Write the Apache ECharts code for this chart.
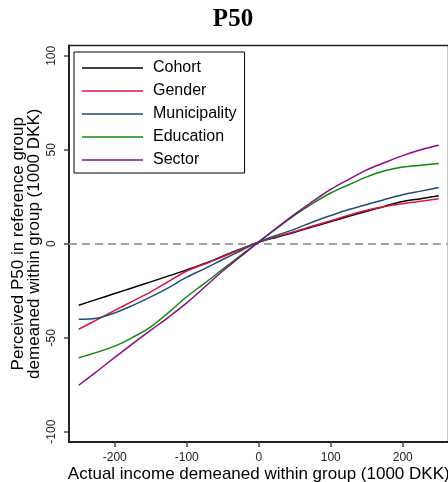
<!DOCTYPE html>
<html>
<head>
<meta charset="utf-8">
<title>P50</title>
<script src="https://cdn.jsdelivr.net/npm/echarts@6/dist/echarts.min.js"></script>
<style>
  html, body { margin: 0; padding: 0; background: #fff; }
  #chart { width: 448px; height: 482px; }
</style>
</head>
<body>
<div id="chart"></div>
<script>
// Actual income demeaned within group (1000 DKK)
const incomeGrid = [-250, -225, -200, -175, -150, -125, -100, -75, -50, -25, 0,
                    25, 50, 75, 100, 125, 150, 175, 200, 225, 250];

// Perceived P50 in reference group, demeaned within group (1000 DKK)
const cohort       = [-32.7, -29.6, -26.5, -23.4, -20.3, -17.1, -13.9, -10.5, -6.6, -2.8, 0.8,
                      3.5, 6.1, 9.0, 11.8, 14.6, 17.3, 20.0, 22.5, 24.0, 25.5];
const gender       = [-45.5, -40.5, -35.5, -30.5, -25.6, -20.0, -14.5, -10.8, -6.9, -2.9, 1.0,
                      3.8, 6.5, 9.4, 12.2, 15.2, 17.8, 19.8, 21.3, 22.6, 24.0];
const municipality = [-40.2, -39.6, -36.8, -32.8, -28.3, -23.3, -17.8, -13.2, -8.4, -3.7, 1.0,
                      4.5, 7.8, 11.6, 15.0, 18.2, 20.9, 23.6, 26.1, 28.0, 29.9];
const education    = [-60.7, -57.8, -54.5, -49.8, -44.2, -36.5, -28.2, -21.0, -13.5, -6.2, 1.0,
                      8.2, 15.2, 21.5, 27.0, 31.4, 35.6, 38.8, 40.8, 41.8, 42.7];
const sector       = [-75.3, -68.0, -60.5, -53.2, -46.0, -39.0, -31.5, -23.0, -14.5, -6.8, 1.0,
                      8.5, 15.8, 22.5, 29.0, 34.3, 39.3, 43.2, 46.9, 50.0, 52.4];

const groupNames  = ['Cohort', 'Gender', 'Municipality', 'Education', 'Sector'];
const groupValues = [cohort, gender, municipality, education, sector];
const groupColors = ['#000000', '#d8173f', '#1f4e79', '#0a8a0a', '#8e0a8e'];

const xTicks = [-200, -100, 0, 100, 200];
const yTicks = [-100, -50, 0, 50, 100];

const SANS = '"Liberation Sans", Arial, sans-serif';
const SERIF = '"Liberation Serif", "Times New Roman", serif';

// plain horizontal stroke used as the legend key
const LEGEND_KEY = 'path://M0,0H61V1.5H0Z';

const series = groupNames.map((name, i) => ({
  name: name,
  type: 'line',
  smooth: 0.35,
  symbol: 'none',
  showSymbol: false,
  color: groupColors[i],
  lineStyle: { color: groupColors[i], width: 1.5 },
  data: incomeGrid.map((x, k) => [x, groupValues[i][k]]),
  z: 3
}));

// dashed reference line at zero
series[0].markLine = {
  silent: true,
  symbol: 'none',
  label: { show: false },
  lineStyle: { type: [8, 5], color: '#a3a3a3', width: 2 },
  data: [{ yAxis: 0 }],
  z: 1
};

const chart = echarts.init(document.getElementById('chart'), null, { renderer: 'canvas' });

chart.setOption({
  animation: false,
  backgroundColor: '#ffffff',
  title: {
    text: 'P50',
    left: 228,
    textAlign: 'center',
    top: 2,
    textStyle: { fontFamily: SERIF, fontWeight: 'bold', fontSize: 25, color: '#000' }
  },
  legend: {
    orient: 'vertical',
    left: 74,
    top: 52,
    padding: [8, 8, 5, 8],
    borderColor: '#000',
    borderWidth: 1,
    backgroundColor: '#fff',
    icon: LEGEND_KEY,
    itemWidth: 61,
    itemHeight: 1.5,
    itemGap: 7,
    data: groupNames,
    textStyle: { fontFamily: SANS, fontSize: 16, lineHeight: 16, color: '#000', padding: [0, 0, 0, 5] }
  },
  grid: {
    left: 69,
    top: 45.5,
    width: 379.5,
    height: 396.5,
    outerBoundsMode: 'none',
    containLabel: false,
    show: true,
    borderColor: '#222',
    borderWidth: 1.5,
    backgroundColor: 'transparent'
  },
  xAxis: {
    type: 'value',
    min: -263.5,
    max: 263.5,
    name: 'Actual income demeaned within group (1000 DKK)',
    nameLocation: 'middle',
    nameGap: 24,
    nameMoveOverlap: false,
    nameTextStyle: { fontFamily: SANS, fontSize: 17, color: '#000' },
    axisLine: { show: true, onZero: false, lineStyle: { color: '#222', width: 2 } },
    axisTick: { show: true, length: 5, customValues: xTicks, lineStyle: { color: '#444', width: 1.5 } },
    axisLabel: { customValues: xTicks, margin: 10, fontFamily: SANS, fontSize: 12, color: '#222' },
    splitLine: { show: false }
  },
  yAxis: {
    type: 'value',
    min: -105.5,
    max: 105.5,
    name: 'Perceived P50 in reference group\ndemeaned within group (1000 DKK)',
    nameLocation: 'middle',
    nameGap: 27,
    nameMoveOverlap: false,
    nameTextStyle: { fontFamily: SANS, fontSize: 17, lineHeight: 16, color: '#000' },
    axisLine: { show: true, onZero: false, lineStyle: { color: '#222', width: 2 } },
    axisTick: { show: true, length: 5, customValues: yTicks, lineStyle: { color: '#444', width: 1.5 } },
    axisLabel: { customValues: yTicks, rotate: 90, margin: 11, fontFamily: SANS, fontSize: 12, color: '#222' },
    splitLine: { show: false }
  },
  series: series
});
</script>
</body>
</html>
